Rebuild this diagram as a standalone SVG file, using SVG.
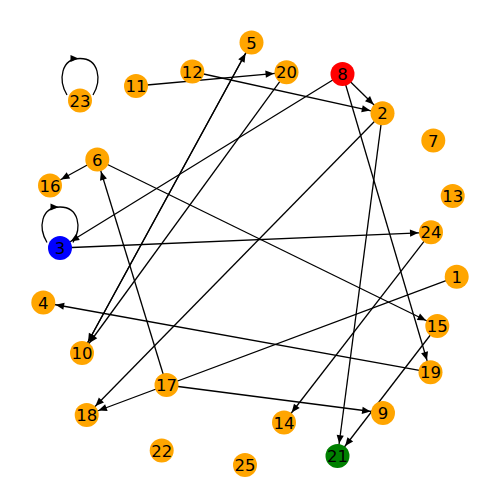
<svg xmlns="http://www.w3.org/2000/svg" width="500" height="500" viewBox="0 0 500 500">
<style>
.e{stroke:#000;stroke-width:1.3;fill:none}
.ea{stroke:#000;stroke-width:1.3;fill:none;marker-end:url(#a)}
.node circle{stroke:none}
.o{fill:#FFA500}
.node text{font-family:"DejaVu Sans",sans-serif;font-size:16.5px;text-anchor:middle;fill:#000}
</style>
<defs>
<marker id="a" markerUnits="userSpaceOnUse" viewBox="-25 -5 30 10" markerWidth="30" markerHeight="10" refX="0" refY="0" orient="auto">
<path d="M-21,-3.6 L-12.5,0 L-21,3.6 z" fill="#000"/>
</marker>
</defs>
<rect width="500" height="500" fill="#fff"/>
<g id="edges">
<line class="ea" x1="136" y1="86" x2="286.5" y2="72.3"/>
<line class="ea" x1="192.3" y1="71.5" x2="382.5" y2="113.3"/>
<line class="ea" x1="342.5" y1="74" x2="382.5" y2="113.3"/>
<line class="ea" x1="342.5" y1="74" x2="60" y2="248"/>
<line class="ea" x1="342.5" y1="74" x2="430.5" y2="372.3"/>
<line class="ea" x1="382.5" y1="113.3" x2="337.5" y2="456"/>
<line class="ea" x1="382.5" y1="113.3" x2="86.7" y2="415"/>
<line class="ea" x1="97.3" y1="159.5" x2="50" y2="185.5"/>
<line class="ea" x1="97.3" y1="159.5" x2="437.3" y2="326"/>
<line class="ea" x1="60" y1="248" x2="431" y2="232.3"/>
<line class="ea" x1="82" y1="353" x2="251.5" y2="42.5"/>
<line class="ea" x1="251.5" y1="42.5" x2="82" y2="353"/>
<line class="ea" x1="286.5" y1="72.3" x2="82" y2="353"/>
<line class="ea" x1="166.5" y1="385" x2="97.3" y2="159.5"/>
<line class="ea" x1="456.7" y1="276.7" x2="86.7" y2="415"/>
<line class="ea" x1="166.5" y1="385" x2="383" y2="413"/>
<line class="ea" x1="430.5" y1="372.3" x2="43.3" y2="302.5"/>
<line class="ea" x1="431" y1="232.3" x2="284" y2="422.5"/>
<line class="ea" x1="437.3" y1="326" x2="337.5" y2="456"/>
<path class="e" d="M67,95 C58,80 61,58.5 80,58.5 C99,58.5 102,80 93,95"/>
<path d="M78.5,58.4 L70.5,54.9 L70.5,61.9 z" fill="#000"/>
<path class="e" d="M47,242.5 C38,227.5 41,207 60,207 C79,207 82,227.5 73,242.5"/>
<path d="M58.5,206.9 L50.5,203.4 L50.5,210.4 z" fill="#000"/>
</g>
<g id="n1" class="node"><circle class="o" cx="456.7" cy="276.7" r="12"/><text x="456.7" y="282.7">1</text></g>
<g id="n2" class="node"><circle class="o" cx="382.5" cy="113.3" r="12"/><text x="382.5" y="119.3">2</text></g>
<g id="n3" class="node"><circle fill="#0000FF" cx="60" cy="248" r="12"/><text x="60" y="254">3</text></g>
<g id="n4" class="node"><circle class="o" cx="43.3" cy="302.5" r="12"/><text x="43.3" y="308.5">4</text></g>
<g id="n5" class="node"><circle class="o" cx="251.5" cy="42.5" r="12"/><text x="251.5" y="48.5">5</text></g>
<g id="n6" class="node"><circle class="o" cx="97.3" cy="159.5" r="12"/><text x="97.3" y="165.5">6</text></g>
<g id="n7" class="node"><circle class="o" cx="433.3" cy="140.5" r="12"/><text x="433.3" y="146.5">7</text></g>
<g id="n8" class="node"><circle fill="#FF0000" cx="342.5" cy="74" r="12"/><text x="342.5" y="80">8</text></g>
<g id="n9" class="node"><circle class="o" cx="383" cy="413" r="12"/><text x="383" y="419">9</text></g>
<g id="n10" class="node"><circle class="o" cx="82" cy="353" r="12"/><text x="82" y="359">10</text></g>
<g id="n11" class="node"><circle class="o" cx="136" cy="86" r="12"/><text x="136" y="92">11</text></g>
<g id="n12" class="node"><circle class="o" cx="192.3" cy="71.5" r="12"/><text x="192.3" y="77.5">12</text></g>
<g id="n13" class="node"><circle class="o" cx="452.7" cy="196" r="12"/><text x="452.7" y="202">13</text></g>
<g id="n14" class="node"><circle class="o" cx="284" cy="422.5" r="12"/><text x="284" y="428.5">14</text></g>
<g id="n15" class="node"><circle class="o" cx="437.3" cy="326" r="12"/><text x="437.3" y="332">15</text></g>
<g id="n16" class="node"><circle class="o" cx="50" cy="185.5" r="12"/><text x="50" y="191.5">16</text></g>
<g id="n17" class="node"><circle class="o" cx="166.5" cy="385" r="12"/><text x="166.5" y="391">17</text></g>
<g id="n18" class="node"><circle class="o" cx="86.7" cy="415" r="12"/><text x="86.7" y="421">18</text></g>
<g id="n19" class="node"><circle class="o" cx="430.5" cy="372.3" r="12"/><text x="430.5" y="378.3">19</text></g>
<g id="n20" class="node"><circle class="o" cx="286.5" cy="72.3" r="12"/><text x="286.5" y="78.3">20</text></g>
<g id="n21" class="node"><circle fill="#008000" cx="337.5" cy="456" r="12"/><text x="337.5" y="462">21</text></g>
<g id="n22" class="node"><circle class="o" cx="161.7" cy="450.5" r="12"/><text x="161.7" y="456.5">22</text></g>
<g id="n23" class="node"><circle class="o" cx="80" cy="100.5" r="12"/><text x="80" y="106.5">23</text></g>
<g id="n24" class="node"><circle class="o" cx="431" cy="232.3" r="12"/><text x="431" y="238.3">24</text></g>
<g id="n25" class="node"><circle class="o" cx="245" cy="465" r="12"/><text x="245" y="471">25</text></g>
</svg>
